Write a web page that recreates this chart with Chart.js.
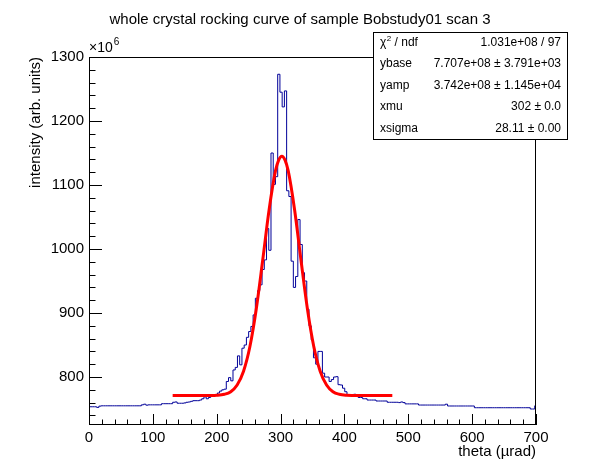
<!DOCTYPE html>
<html>
<head>
<meta charset="utf-8">
<script src="https://cdn.jsdelivr.net/npm/chart.js@4.4.1/dist/chart.umd.min.js"></script>
<style>
  html, body { margin: 0; padding: 0; background: #fff; }
  #wrap { width: 596px; height: 472px; }
</style>
</head>
<body>
<div id="wrap"><canvas id="grafico" width="596" height="472"></canvas></div>
<script>
// --- Dados (intensidade em unidades de 10^6) ---
const binStart = 1.5;
const binWidth = 3.5;
const counts = [
    753.5, 753.5, 753.5, 752.5, 754.5, 755, 755, 755, 755, 755,
    755, 755, 755, 755, 755, 755, 755, 755, 755, 755,
    755, 755, 755, 756.5, 757.5, 756, 756.5, 756.5, 756.5, 756.5,
    756.5, 756.5, 758.3, 758.3, 758.3, 758.3, 758.3, 760.5, 761, 759,
    759, 759, 759.5, 760.5, 761, 762, 763, 763, 763, 764,
    766, 769, 766, 768, 770, 771.5, 772.5, 775, 778, 780,
    781, 793, 799, 794, 811, 815, 833, 819, 845, 850,
    862, 871, 879, 897, 923, 935, 944, 968, 983, 1032,
    998, 1150, 1101, 1113, 1273, 1245, 1222, 1247, 1091, 1082,
    981, 940, 957, 1046, 1007, 963, 950, 906, 880, 858,
    830, 820, 840, 840, 806, 800, 800, 793, 796, 800,
    800.5, 788, 787.5, 782.5, 777, 771, 771, 771, 773, 769.5,
    768, 768, 766, 766, 764, 764, 764, 764, 762.5, 762.5,
    762.5, 762.5, 762.5, 760.5, 760.5, 760.5, 760.5, 760.5, 760, 761,
    760, 758, 758, 758, 758, 758, 758, 756.2, 756.2, 756.2,
    756.2, 756.2, 756.2, 756.2, 756.2, 756.2, 756.2, 756.2, 756.2, 757.5,
    754.7, 754.7, 754.7, 754.7, 754.7, 754.7, 754.7, 754.7, 754.7, 754.7,
    754.7, 754.7, 752, 752, 752, 752, 752, 752, 752, 752,
    752, 752, 752, 752, 752, 752, 752, 752, 752, 752,
    752, 752, 752, 752, 752, 752, 752, 750, 750, 755
];

// curva do ajuste
const fitX = [131, 180, 200, 212, 222, 232, 242, 252, 262, 272, 282, 292, 297, 302,
              307, 312, 322, 332, 342, 352, 362, 372, 382, 392, 404, 420, 475];
const fitY = [771, 771, 771.5, 773, 777, 787.5, 809, 847.6, 906.6, 982.4, 1061, 1122, 1139, 1145,
              1139, 1122, 1061, 982.4, 906.6, 847.6, 809, 787.5, 777, 773, 771.5, 771, 771];

const xTicks = [0, 100, 200, 300, 400, 500, 600, 700];
const yTicks = [800, 900, 1000, 1100, 1200, 1300];

const statsNames = ['χ2 / ndf', 'ybase', 'yamp', 'xmu', 'xsigma'];
const statsValues = ['1.031e+08 / 97', '7.707e+08 ± 3.791e+03', '3.742e+08 ± 1.145e+04', '302 ± 0.0', '28.11 ± 0.00'];

const tituloGrafico = 'whole crystal rocking curve of sample Bobstudy01 scan 3';
const fonte = '"Liberation Sans", Arial, Helvetica, sans-serif';

// --- Pontos ---
const pontosHist = counts.map((v, i) => ({ x: i === 0 ? 0 : binStart + i * binWidth, y: v }));
pontosHist.push({ x: 700, y: counts[counts.length - 1] });
const pontosFit = fitX.map((x, i) => ({ x, y: fitY[i] }));

// plugin que desenha moldura, ticks internos, título e caixa de estatística (estilo ROOT)
const estiloRoot = {
    id: 'estiloRoot',
    afterDraw(chart) {
        const { ctx, chartArea: a, scales } = chart;
        const sx = scales.x, sy = scales.y;
        ctx.save();
        ctx.strokeStyle = '#000';
        ctx.lineWidth = 1;
        ctx.strokeRect(Math.round(a.left) + 0.5, Math.round(a.top) + 0.5,
                       Math.round(a.right - a.left) - 1, Math.round(a.bottom - a.top) - 1);

        ctx.beginPath();
        for (let v = 0; v <= 700; v += 20) {
            const px = Math.round(sx.getPixelForValue(v)) + 0.5;
            const len = v % 100 === 0 ? 11 : 5.5;
            ctx.moveTo(px, a.bottom);
            ctx.lineTo(px, a.bottom - len);
        }
        for (let v = 740; v <= 1300; v += 20) {
            const py = Math.round(sy.getPixelForValue(v)) + 0.5;
            const len = v % 100 === 0 ? 13 : 6.5;
            ctx.moveTo(a.left, py);
            ctx.lineTo(a.left + len, py);
        }
        ctx.stroke();

        ctx.fillStyle = '#000';
        ctx.textBaseline = 'middle';
        ctx.textAlign = 'center';
        ctx.font = '15px ' + fonte;
        ctx.fillText(tituloGrafico, 300, 20);

        // ×10^6
        ctx.textAlign = 'left';
        ctx.font = '14px ' + fonte;
        ctx.fillText('×10', a.left, 48);
        const w10 = ctx.measureText('×10').width;
        ctx.font = '10px ' + fonte;
        ctx.fillText('6', a.left + w10 + 1, 42);

        // caixa de estatística
        const bx = 373, by = 32, bw = 194, bh = 107;
        ctx.fillStyle = '#fff';
        ctx.fillRect(bx, by, bw, bh);
        ctx.strokeRect(bx + 0.5, by + 0.5, bw, bh);
        ctx.fillStyle = '#000';
        const passo = bh / statsNames.length;
        statsNames.forEach((nome, k) => {
            const y = by + passo * (k + 0.5);
            ctx.font = '12px ' + fonte;
            ctx.textAlign = 'left';
            if (k === 0) {
                ctx.fillText('χ', bx + 7, y);
                let w = ctx.measureText('χ').width;
                ctx.font = '8px ' + fonte;
                ctx.fillText('2', bx + 7 + w + 0.5, y - 4);
                w += ctx.measureText('2').width + 0.5;
                ctx.font = '12px ' + fonte;
                ctx.fillText(' / ndf', bx + 7 + w, y);
            } else {
                ctx.fillText(nome, bx + 7, y);
            }
            ctx.textAlign = 'right';
            ctx.fillText(statsValues[k], bx + bw - 6, y);
        });
        ctx.restore();
    }
};

const fonteTicks = { family: fonte, size: 15 };

new Chart(document.getElementById('grafico').getContext('2d'), {
    type: 'line',
    data: {
        datasets: [
            {
                label: 'fit',
                data: pontosFit,
                borderColor: '#ff0000',
                borderWidth: 3,
                cubicInterpolationMode: 'monotone',
                pointRadius: 0,
                fill: false
            },
            {
                label: 'hist',
                data: pontosHist,
                borderColor: '#000099',
                borderWidth: 1,
                stepped: true,
                pointRadius: 0,
                fill: false
            }
        ]
    },
    options: {
        responsive: false,
        animation: false,
        devicePixelRatio: 1,
        layout: { padding: { left: 0, top: 57, right: 60, bottom: 0 } },
        plugins: { legend: { display: false }, tooltip: { enabled: false } },
        scales: {
            x: {
                type: 'linear',
                min: 0,
                max: 700,
                afterBuildTicks: s => { s.ticks = xTicks.map(v => ({ value: v })); },
                afterFit: s => { s.height = 47; },
                grid: { display: false, drawTicks: false },
                border: { display: false },
                ticks: { padding: 4, color: '#000', font: fonteTicks, maxRotation: 0, autoSkip: false,
                         callback: v => String(v) },
                title: { display: true, text: 'theta (µrad)', align: 'end', color: '#000',
                         font: fonteTicks, padding: { top: 0, bottom: 11 } }
            },
            y: {
                type: 'linear',
                min: 725,
                max: 1300,
                afterBuildTicks: s => { s.ticks = yTicks.map(v => ({ value: v })); },
                afterFit: s => { s.width = 89; },
                grid: { display: false, drawTicks: false },
                border: { display: false },
                ticks: { padding: 5, color: '#000', font: fonteTicks, autoSkip: false,
                         callback: v => String(v) },
                title: { display: true, text: 'intensity (arb. units)', align: 'end', color: '#000',
                         font: fonteTicks, padding: { top: 27, bottom: 0 } }
            }
        }
    },
    plugins: [estiloRoot]
});
</script>
</body>
</html>
